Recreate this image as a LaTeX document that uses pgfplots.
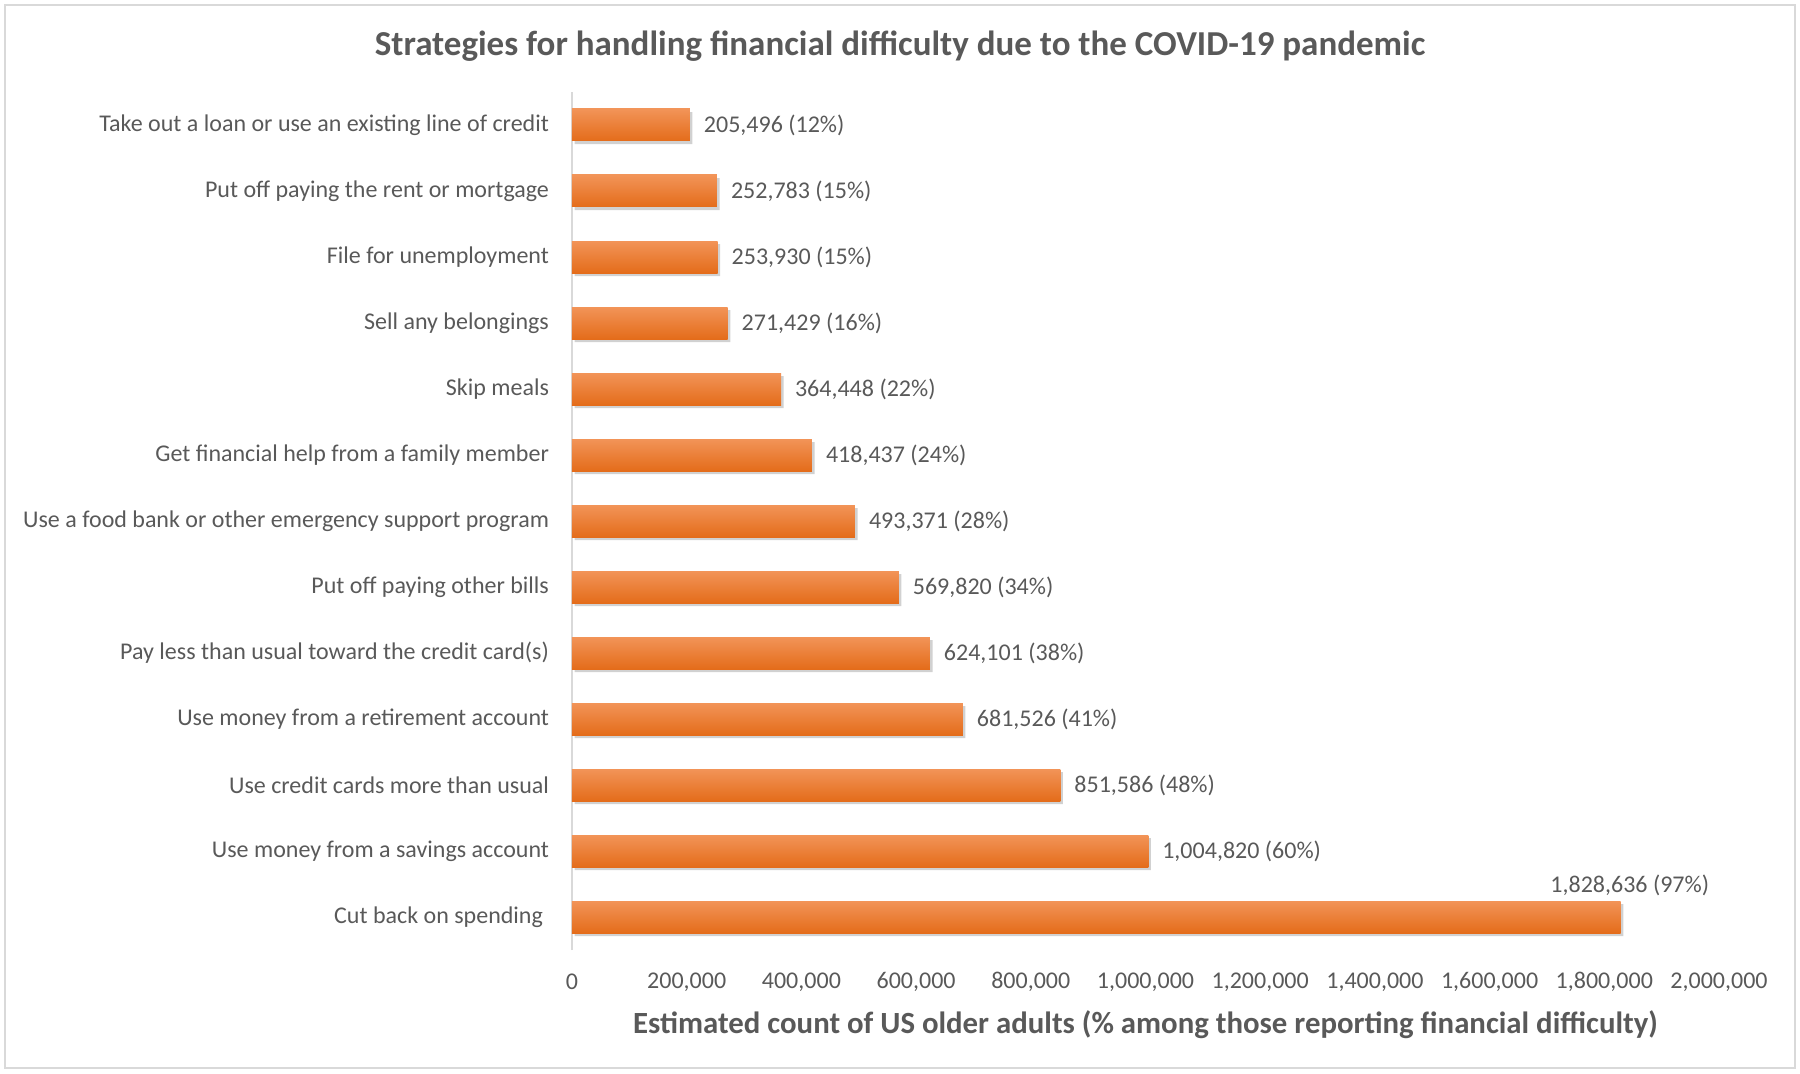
\documentclass[border=0pt]{standalone}
\usepackage{pgfplots}
\pgfplotsset{compat=1.18}
\usepackage{fontspec}
\setmainfont{Carlito}
\definecolor{txt}{HTML}{595959}
\definecolor{axgray}{HTML}{D9D9D9}
\definecolor{otop}{HTML}{F29458}
\definecolor{omid}{HTML}{F07D2D}
\definecolor{obot}{HTML}{E46C1A}

\pgfplotsset{
  obar/.style={draw=none, top color=otop, middle color=omid, bottom color=obot,
    point meta=explicit symbolic, nodes near coords,
    every node near coord/.append style={anchor=west, xshift=3.5pt, font=\fontsize{12}{14}\selectfont, text=txt}},
}

\begin{document}
\begin{tikzpicture}
\useasboundingbox (0,0) rectangle (900pt,536.5pt);
\draw[axgray, line width=1pt] (2.5pt,2.5pt) rectangle (897.5pt,534pt);
\begin{axis}[
  at={(286pt,61.5pt)}, anchor=south west,
  scale only axis, width=573.5pt, height=429pt,
  xbar, bar width=16pt, bar shift=0pt,
  xmin=0, xmax=2000000, ymin=-0.5, ymax=12.5,
  axis lines*=left,
  x axis line style={draw=none},
  y axis line style={axgray, line width=1pt},
  tick style={draw=none},
  major tick length=0pt,
  xtick={0,200000,400000,600000,800000,1000000,1200000,1400000,1600000,1800000,2000000},
  scaled x ticks=false,
  /pgf/number format/assume math mode=true,
  xticklabel={\pgfmathprintnumber[fixed,precision=0,1000 sep={,},assume math mode=true]{\tick}},
  xticklabel style={anchor=center, yshift=-16pt, font=\fontsize{12}{14}\selectfont, text=txt},
  ytick={0,...,12},
  yticklabels={Cut back on spending\kern3pt,
    Use money from a savings account,
    Use credit cards more than usual,
    Use money from a retirement account,
    Pay less than usual toward the credit card(s),
    Put off paying other bills,
    Use a food bank or other emergency support program,
    Get financial help from a family member,
    Skip meals,
    Sell any belongings,
    File for unemployment,
    Put off paying the rent or mortgage,
    Take out a loan or use an existing line of credit},
  yticklabel style={anchor=east, xshift=-8pt, font=\fontsize{12}{14}\selectfont, text=txt},
  title={Strategies for handling financial difficulty due to the COVID-19 pandemic},
  title style={at={(axis description cs:0.286,1)}, anchor=center, yshift=17pt, font=\bfseries\fontsize{17.5}{21}\selectfont, text=txt},
  xlabel={Estimated count of US older adults (\% among those reporting financial difficulty)},
  xlabel style={at={(axis description cs:0.5,0)}, anchor=center, yshift=-37.5pt, font=\bfseries\fontsize{15.4}{18}\selectfont, text=txt},
  clip=false,
]
% soft shadow under the bars
\addplot[draw=none, fill=black, opacity=0.18, bar shift=-1.6pt, /tikz/xshift=1.3pt, bar width=16pt]
  coordinates {(205496,12) (252783,11) (253930,10) (271429,9) (364448,8) (418437,7)
    (493371,6) (569820,5) (624101,4) (681526,3) (851586,2) (1004820,1) (1828636,0)};
\addplot[obar] coordinates {(205496,12) [205,496 (12\%)]};
\addplot[obar] coordinates {(252783,11) [252,783 (15\%)]};
\addplot[obar] coordinates {(253930,10) [253,930 (15\%)]};
\addplot[obar] coordinates {(271429,9) [271,429 (16\%)]};
\addplot[obar] coordinates {(364448,8) [364,448 (22\%)]};
\addplot[obar] coordinates {(418437,7) [418,437 (24\%)]};
\addplot[obar] coordinates {(493371,6) [493,371 (28\%)]};
\addplot[obar] coordinates {(569820,5) [569,820 (34\%)]};
\addplot[obar] coordinates {(624101,4) [624,101 (38\%)]};
\addplot[obar] coordinates {(681526,3) [681,526 (41\%)]};
\addplot[obar] coordinates {(851586,2) [851,586 (48\%)]};
\addplot[obar] coordinates {(1004820,1) [1,004,820 (60\%)]};
\addplot[obar, every node near coord/.append style={anchor=center, xshift=1pt, yshift=16pt}]
  coordinates {(1828636,0) [1,828,636 (97\%)]};
\end{axis}
\end{tikzpicture}
\end{document}
